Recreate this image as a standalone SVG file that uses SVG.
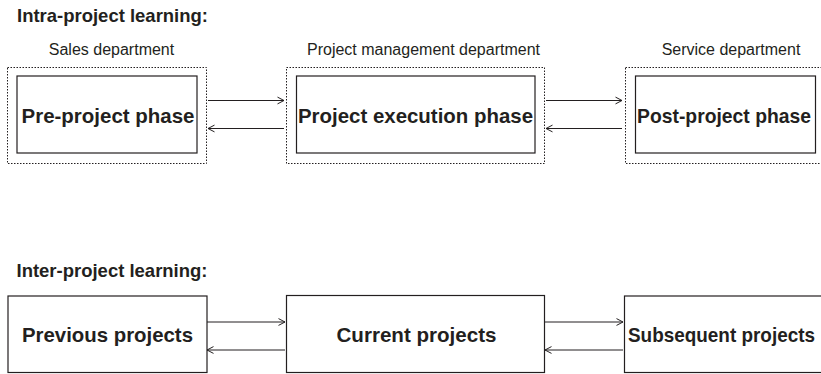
<svg xmlns="http://www.w3.org/2000/svg" width="821" height="374" viewBox="0 0 821 374">
  <style>
    .bg { fill: #ffffff; }
    .title { font-family: "Liberation Sans", Arial, sans-serif; font-size: 18.5px; font-weight: bold; fill: #231f20; }
    .dept { font-family: "Liberation Sans", Arial, sans-serif; font-size: 16px; fill: #231f20; text-anchor: middle; }
    .label { font-family: "Liberation Sans", Arial, sans-serif; font-size: 20.5px; font-weight: bold; fill: #231f20; text-anchor: middle; }
    .box { fill: #ffffff; stroke: #231f20; stroke-width: 1.2; }
    .dept-frame { fill: none; stroke: #231f20; stroke-width: 1; stroke-dasharray: 1.5 1.5; }
    .edge { fill: none; stroke: #231f20; stroke-width: 1; }
  </style>
  <defs>
    <marker id="chevron" viewBox="0 0 10 10" refX="9" refY="5" markerWidth="10" markerHeight="10" markerUnits="userSpaceOnUse" orient="auto">
      <path d="M2.5,1.6 L9,5 L2.5,8.4" fill="none" stroke="#231f20" stroke-width="1"/>
    </marker>
  </defs>
  <rect class="bg" x="0" y="0" width="821" height="374"/>

  <!-- Intra-project learning -->
  <text class="title" x="17" y="22" textLength="191" lengthAdjust="spacingAndGlyphs">Intra-project learning:</text>

  <g id="pre-project">
    <text class="dept" x="111.5" y="55">Sales department</text>
    <rect class="dept-frame" x="7.5" y="67.5" width="199" height="96"/>
    <rect class="box" x="17" y="76" width="180" height="77"/>
    <text class="label" x="108" y="122.5" textLength="173" lengthAdjust="spacingAndGlyphs">Pre-project phase</text>
  </g>

  <g id="project-execution">
    <text class="dept" x="423.5" y="55">Project management department</text>
    <rect class="dept-frame" x="286.5" y="67.5" width="258" height="96"/>
    <rect class="box" x="296.5" y="76" width="238.5" height="77"/>
    <text class="label" x="415.5" y="122.5" textLength="235" lengthAdjust="spacingAndGlyphs">Project execution phase</text>
  </g>

  <g id="post-project">
    <text class="dept" x="731" y="55">Service department</text>
    <rect class="dept-frame" x="625.5" y="67.5" width="199" height="96"/>
    <rect class="box" x="635.5" y="76" width="180" height="77"/>
    <text class="label" x="724" y="122.5" textLength="174" lengthAdjust="spacingAndGlyphs">Post-project phase</text>
  </g>

  <!-- Inter-project learning -->
  <text class="title" x="16.5" y="276.5" textLength="191" lengthAdjust="spacingAndGlyphs">Inter-project learning:</text>

  <g id="previous-projects">
    <rect class="box" x="8" y="296" width="199" height="76.5"/>
    <text class="label" x="107.5" y="341.5" textLength="171" lengthAdjust="spacingAndGlyphs">Previous projects</text>
  </g>

  <g id="current-projects">
    <rect class="box" x="286.5" y="295.5" width="258" height="77"/>
    <text class="label" x="416.5" y="341.5" textLength="160" lengthAdjust="spacingAndGlyphs">Current projects</text>
  </g>

  <g id="subsequent-projects">
    <rect class="box" x="624.5" y="296" width="200" height="76.5"/>
    <text class="label" x="721.5" y="341.5" textLength="187" lengthAdjust="spacingAndGlyphs">Subsequent projects</text>
  </g>

  <g id="connectors">
    <line class="edge" x1="208" y1="100.5" x2="284" y2="100.5" marker-end="url(#chevron)"/>
    <line class="edge" x1="284" y1="128.5" x2="208" y2="128.5" marker-end="url(#chevron)"/>
    <line class="edge" x1="546" y1="100.5" x2="622" y2="100.5" marker-end="url(#chevron)"/>
    <line class="edge" x1="622" y1="128.5" x2="546" y2="128.5" marker-end="url(#chevron)"/>
    <line class="edge" x1="207" y1="322" x2="285" y2="322" marker-end="url(#chevron)"/>
    <line class="edge" x1="285" y1="350" x2="207" y2="350" marker-end="url(#chevron)"/>
    <line class="edge" x1="545" y1="322" x2="623" y2="322" marker-end="url(#chevron)"/>
    <line class="edge" x1="623" y1="350" x2="545" y2="350" marker-end="url(#chevron)"/>
  </g>
</svg>
